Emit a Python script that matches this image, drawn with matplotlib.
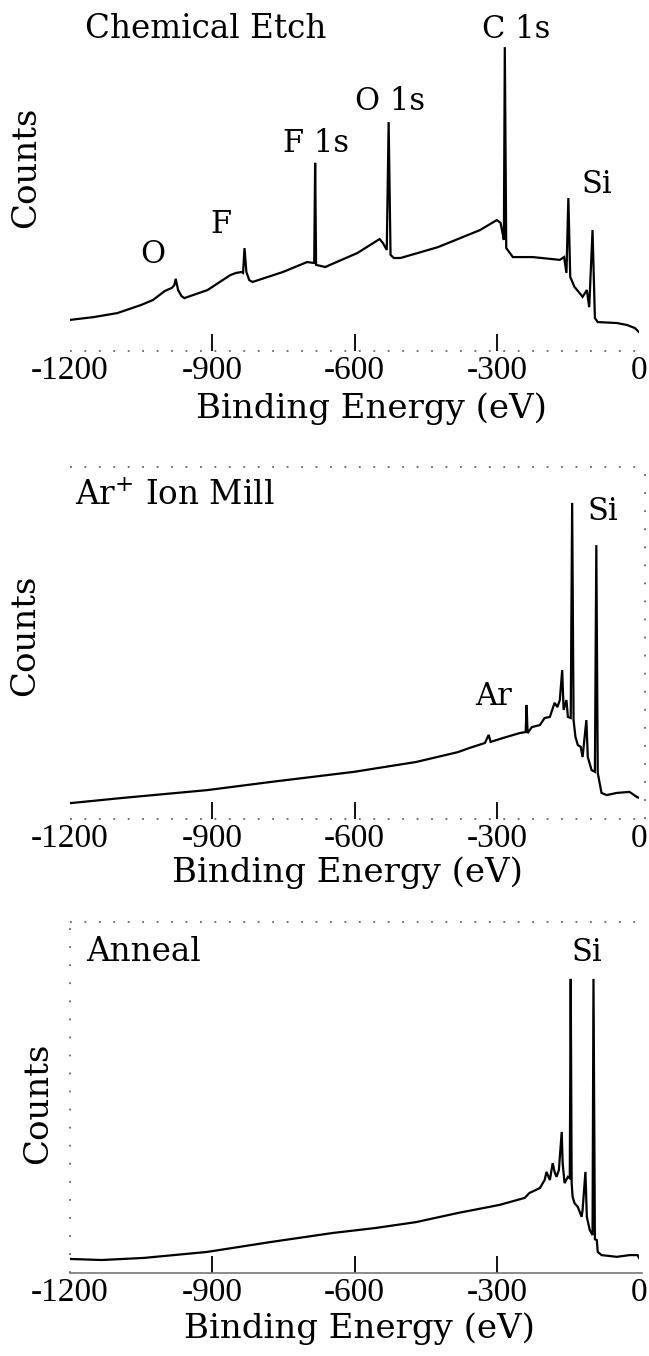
import matplotlib
matplotlib.use("Agg")
import matplotlib.pyplot as plt
from matplotlib.lines import Line2D

plt.rcParams['mathtext.fontset'] = 'dejavuserif'

W, H = 649, 1356

# ---------------- data (binding energy in eV, counts in arbitrary units) -------------
etch_energy = [-1200, -1150, -1100, -1050, -1025, -1000, -985, -980, -977, -972, -965, -959,
               -910, -862, -850, -838, -835, -832, -828, -822, -815, -751, -700, -685,
               -683, -681, -662, -594, -547, -540, -532, -528, -524, -517, -503, -424,
               -335, -300, -292, -287, -285, -283, -280, -266, -224, -167, -158, -153,
               -149, -145, -136, -125, -119, -110, -105, -98, -93, -87, -47, -26, -9, 0]
etch_counts = [10.0, 10.9, 12.2, 14.8, 16.4, 19.3, 20.3, 21.2, 23.2, 19.6, 17.7, 17.0,
               19.6, 24.4, 25.1, 25.4, 25.1, 33.1, 25.4, 22.8, 22.2, 25.4, 28.6, 28.3,
               60.5, 27.7, 27.0, 31.5, 36.0, 34.7, 32.5, 73.6, 30.9, 29.9, 29.9, 33.4,
               38.9, 42.1, 41.2, 37.3, 35.7, 97.7, 33.1, 30.2, 30.2, 29.3, 30.2, 25.1,
               49.2, 23.8, 20.6, 18.6, 17.4, 19.6, 14.1, 38.9, 10.6, 9.3, 9.0, 8.4, 7.4, 6.1]

mill_energy = [-1200, -1088, -911, -778, -601, -470, -382, -357, -325, -317, -313,
               -287, -252, -239, -237, -235, -226, -209, -199, -188, -178, -172, -167,
               -162, -159, -153, -150, -144, -141, -138, -134, -129, -123, -119, -111,
               -108, -100, -93, -90, -87, -83, -79, -68, -47, -20, -5, 0]
mill_counts = [4.5, 6.0, 8.2, 10.5, 13.4, 16.2, 19.0, 20.2, 21.6, 23.9, 21.9,
               23.0, 24.4, 24.7, 32.4, 24.4, 26.1, 26.7, 28.7, 29.0, 33.0, 31.8, 33.8,
               42.3, 31.0, 33.8, 29.0, 28.7, 89.8, 28.1, 23.3, 21.0, 20.5, 17.6, 28.1,
               17.6, 13.9, 13.4, 77.8, 13.1, 10.2, 7.4, 6.8, 7.4, 7.7, 6.3, 6.0]

anneal_energy = [-1200, -1133, -1044, -911, -778, -646, -557, -470, -382, -294, -241,
                 -231, -209, -199, -195, -188, -182, -178, -174, -169, -163, -161, -157,
                 -150, -146, -144, -142, -140, -136, -129, -121, -119, -113, -110, -104,
                 -98, -96, -93, -89, -87, -79, -47, -20, -3, 0]
anneal_counts = [4.0, 3.7, 4.3, 6.0, 8.8, 11.4, 12.8, 14.5, 17.1, 19.4, 21.4,
                 22.8, 24.2, 26.5, 28.8, 26.5, 31.3, 28.8, 27.4, 29.3, 40.2, 31.3, 25.6,
                 27.4, 27.0, 83.8, 25.6, 21.7, 19.9, 18.8, 16.0, 17.9, 28.8, 16.0, 12.3,
                 10.8, 83.8, 9.6, 9.4, 6.0, 5.1, 4.6, 5.1, 5.1, 4.3]

tick_values = [-1200, -900, -600, -300, 0]
tick_labels = ["-1200", "-900", "-600", "-300", "0"]

titles = ["Chemical Etch", r"Ar$^{+}$ Ion Mill", "Anneal"]
etch_peaks = [("C 1s", -260, 100.6), ("O 1s", -526, 77.5), ("F 1s", -682, 64.0),
              ("Si", -88, 50.8), ("F", -881, 37.9), ("O", -1026, 28.3)]
mill_peaks = [("Si", -76, 84.9), ("Ar", -307, 32.4)]
anneal_peaks = [("Si", -110, 88.9)]

# ---------------- layout ----------------
TXT = "DejaVu Serif"
NUM = "Liberation Serif"
PEAK_SIZE = 22
TITLE_SIZE = 23.5
LABEL_SIZE = 24.5
NUM_SIZE = 24

fig = plt.figure(figsize=(W / 100, H / 100), dpi=100)


def fbox(x0, x1, ytop, ybot):
    return [x0 / W, 1 - ybot / H, (x1 - x0) / W, (ybot - ytop) / H]


panels = [
    dict(box=fbox(70, 639, 40, 351), E=etch_energy, C=etch_counts, title=titles[0],
         tpos=(-1168, 100.6), peaks=etch_peaks, counts_xy=(26.5, 167), xlab=(372, 418),
         spines=dict(bottom="dot", top=None, left=None, right=None)),
    dict(box=fbox(70, 639, 467, 819), E=mill_energy, C=mill_counts, title=titles[1],
         tpos=(-1189, 89.2), peaks=mill_peaks, counts_xy=(25.5, 635), xlab=(347, 882),
         spines=dict(bottom="dot", top="dot", left=None, right="dot_out")),
    dict(box=fbox(70, 639, 922, 1273), E=anneal_energy, C=anneal_counts, title=titles[2],
         tpos=(-1166, 88.9), peaks=anneal_peaks, counts_xy=(38.5, 1103), xlab=(360, 1338),
         spines=dict(bottom="solid", top="dot", left="dot", right=None)),
]

dot_style = dict(color="#666666", linewidth=1.3, linestyle=(0, (1, 7)))

for p in panels:
    ax = fig.add_axes(p["box"])
    ax.plot(p["E"], p["C"], color="black", linewidth=1.6, solid_joinstyle="miter")
    ax.set_xlim(-1200, 0)
    ax.set_ylim(0, 100)
    ax.set_yticks([])
    ax.set_xticks(tick_values)
    ax.set_xticklabels(tick_labels, fontfamily=NUM, fontsize=NUM_SIZE)
    ax.tick_params(axis="x", direction="in", length=12, width=1.3, pad=3,
                   color="black")
    ticks = ax.xaxis.get_major_ticks()
    ticks[0].tick1line.set_visible(False)
    ticks[-1].tick1line.set_visible(False)
    for s in ["top", "left", "right", "bottom"]:
        ax.spines[s].set_visible(False)
    ax.patch.set_visible(False)

    sp = p["spines"]
    if sp["bottom"] == "dot":
        ax.add_line(Line2D([0, 1], [0, 0], transform=ax.transAxes, clip_on=False, **dot_style))
    elif sp["bottom"] == "solid":
        ax.add_line(Line2D([0, 1.005], [0, 0], transform=ax.transAxes, clip_on=False,
                           color="#777777", linewidth=1.2))
    if sp["top"] == "dot":
        ax.add_line(Line2D([0.0, 1.0], [1, 1], transform=ax.transAxes, clip_on=False, **dot_style))
    if sp["left"] == "dot":
        ax.add_line(Line2D([0, 0], [0, 1], transform=ax.transAxes, clip_on=False,
                           color="#666666", linewidth=1.3, linestyle=(0, (1, 9))))
    if sp["right"] == "dot_out":
        ax.add_line(Line2D([1.011, 1.011], [0.0, 1.0], transform=ax.transAxes, clip_on=False,
                           color="#666666", linewidth=1.3, linestyle=(0, (1, 9))))

    ax.text(p["tpos"][0], p["tpos"][1], p["title"], fontfamily=TXT, fontsize=TITLE_SIZE,
            ha="left", va="baseline", clip_on=False)
    for lab, ex, cy in p["peaks"]:
        ax.text(ex, cy, lab, fontfamily=TXT, fontsize=PEAK_SIZE, ha="center",
                va="baseline", clip_on=False)

    cx, cy = p["counts_xy"]
    fig.text(cx / W, 1 - cy / H, "Counts", fontfamily=TXT, fontsize=LABEL_SIZE,
             rotation=90, ha="center", va="center")
    lx, ly = p["xlab"]
    fig.text(lx / W, 1 - ly / H, "Binding Energy (eV)", fontfamily=TXT,
             fontsize=LABEL_SIZE, ha="center", va="baseline")

fig.savefig("out.png", dpi=100, facecolor="white")
